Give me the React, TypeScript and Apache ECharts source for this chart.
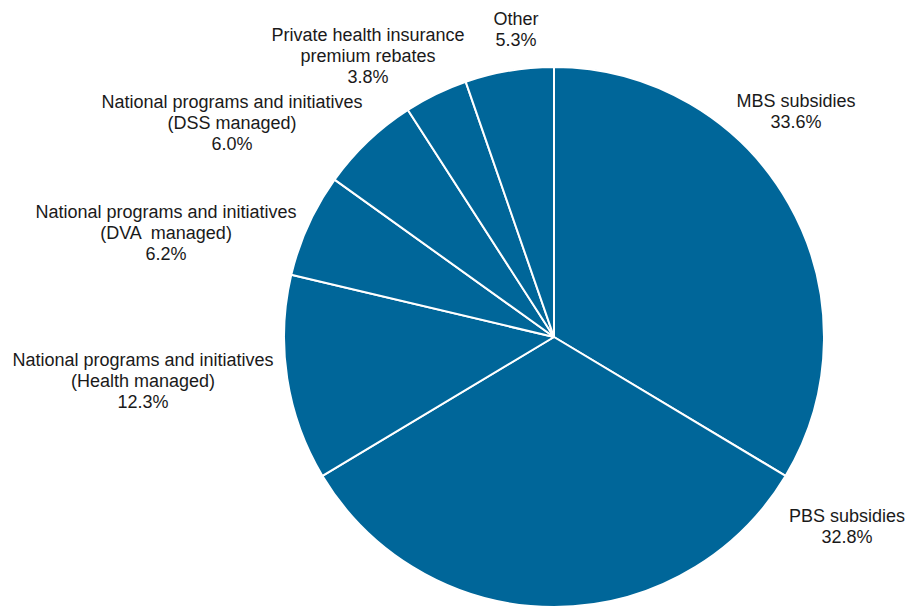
import React, { useEffect, useRef } from "react";
import * as echarts from "echarts";

const categories = [
  "MBS subsidies",
  "PBS subsidies",
  "National programs and initiatives\n(Health managed)",
  "National programs and initiatives\n(DVA  managed)",
  "National programs and initiatives\n(DSS managed)",
  "Private health insurance\npremium rebates",
  "Other",
];
const shares = [33.6, 32.8, 12.3, 6.2, 6.0, 3.8, 5.3];

// label anchor points (centre x, middle y) in pixels
const labelAnchors: [number, number][] = [
  [796, 111],
  [847, 526],
  [143, 381],
  [166, 233],
  [232, 123],
  [368, 56],
  [516, 29],
];

export default function App() {
  const ref = useRef<HTMLDivElement>(null);
  useEffect(() => {
    if (!ref.current) return;
    const chart = echarts.init(ref.current, null, { renderer: "svg" });
    chart.setOption({
      animation: false,
      backgroundColor: "#ffffff",
      series: [
        {
          type: "pie",
          center: [554, 337],
          radius: 270,
          startAngle: 90,
          clockwise: true,
          avoidLabelOverlap: false,
          itemStyle: { color: "#006699", borderColor: "#ffffff", borderWidth: 2 },
          emphasis: { disabled: true },
          label: {
            show: true,
            position: "outside",
            formatter: (p: any) => `${p.name}\n${p.value.toFixed(1)}%`,
            fontFamily: "'Liberation Sans', Arial, sans-serif",
            fontSize: 18,
            lineHeight: 21,
            color: "#1a1a1a",
            align: "center",
          },
          labelLine: { show: false },
          labelLayout: (params: any) => {
            const a = labelAnchors[params.dataIndex];
            return { x: a[0], y: a[1], align: "center", verticalAlign: "middle" };
          },
          data: categories.map((name, i) => ({ name, value: shares[i] })),
        },
      ],
    });
    return () => chart.dispose();
  }, []);
  return (
    <div
      ref={ref}
      style={{ position: "fixed", left: 0, top: 0, width: 908, height: 606 }}
    />
  );
}
